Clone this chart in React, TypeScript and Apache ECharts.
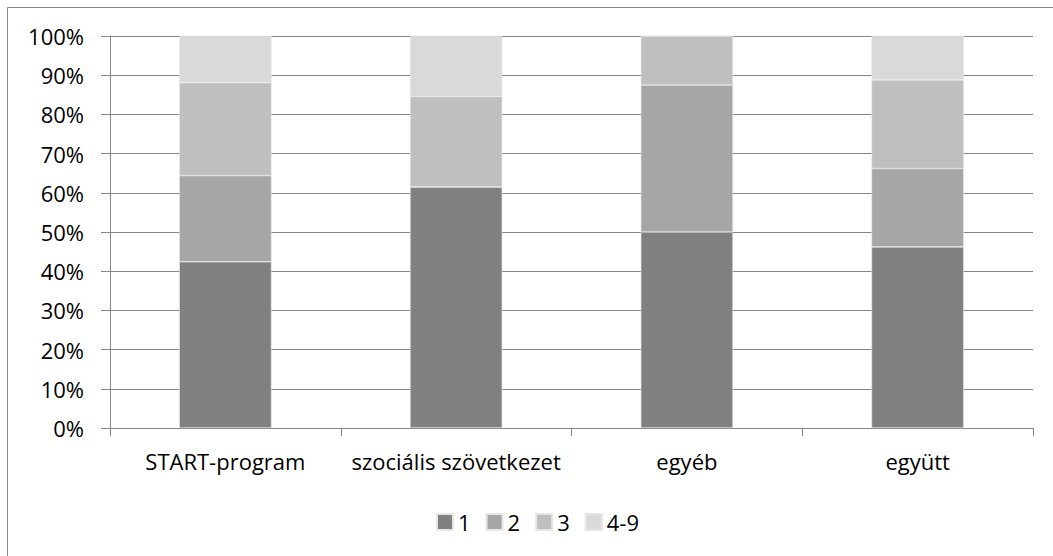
import React, { useEffect, useRef } from "react";
import * as echarts from "echarts";

const categories = ["START-program", "szociális szövetkezet", "egyéb", "együtt"];
const seriesNames = ["1", "2", "3", "4-9"];
const values1 = [42.4, 61.5, 50.0, 46.2];
const values2 = [22.0, 0, 37.5, 20.0];
const values3 = [23.7, 23.1, 12.5, 22.6];
const values4 = [11.9, 15.4, 0, 11.2];
const colors = ["#808080", "#a6a6a6", "#bfbfbf", "#d9d9d9"];

const FONT = "'Open Sans', 'Noto Sans', sans-serif";

export default function App() {
  const ref = useRef<HTMLDivElement>(null);
  useEffect(() => {
    document.body.style.margin = "0";
    const chart = echarts.init(ref.current!, null, { renderer: "svg" });
    const data = [values1, values2, values3, values4];
    chart.setOption({
      animation: false,
      backgroundColor: "#ffffff",
      textStyle: { fontFamily: FONT },
      graphic: [
        {
          type: "rect",
          shape: { x: 7.5, y: 7.5, width: 1100, height: 600 },
          style: { fill: "none", stroke: "#868686", lineWidth: 1 },
          silent: true,
        },
      ],
      grid: { left: 110, right: 20, top: 36, bottom: 128, containLabel: false },
      legend: {
        left: 431,
        top: 506,
        itemWidth: 16,
        itemHeight: 16,
        itemGap: 15,
        icon: "rect",
        textStyle: { fontFamily: FONT, fontSize: 22, color: "#000" },
        data: seriesNames,
      },
      xAxis: {
        type: "category",
        data: categories,
        boundaryGap: true,
        axisLine: { lineStyle: { color: "#868686", width: 1 } },
        axisTick: { show: true, length: 8, interval: 0, lineStyle: { color: "#868686" } },
        axisLabel: { color: "#000", fontFamily: FONT, fontSize: 22, margin: 22, interval: 0 },
      },
      yAxis: {
        type: "value",
        min: 0,
        max: 100,
        interval: 10,
        axisLine: { show: true, lineStyle: { color: "#868686", width: 1 } },
        axisTick: { show: true, length: 9, lineStyle: { color: "#868686" } },
        splitLine: { show: true, lineStyle: { color: "#868686", width: 1 } },
        axisLabel: {
          color: "#000",
          fontFamily: FONT,
          fontSize: 22,
          margin: 26,
          formatter: "{value}%",
        },
      },
      series: seriesNames.map((name, i) => ({
        name,
        type: "bar",
        stack: "total",
        barWidth: "40%",
        data: data[i],
        itemStyle: { color: colors[i], borderColor: "#e6e6e6", borderWidth: 0.6 },
      })),
    });
    return () => chart.dispose();
  }, []);
  return (
    <div
      ref={ref}
      style={{ position: "absolute", left: 0, top: 0, width: 1053, height: 556 }}
    />
  );
}
